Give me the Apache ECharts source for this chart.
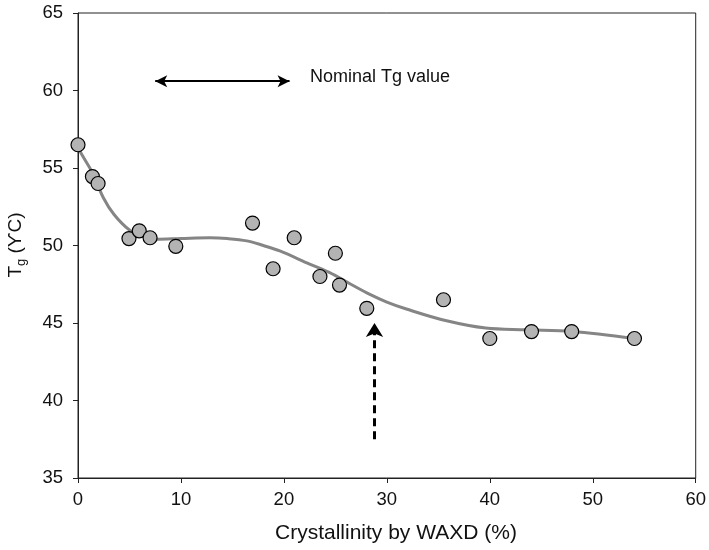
<!DOCTYPE html>
<html>
<head>
<meta charset="utf-8">
<script src="https://cdn.jsdelivr.net/npm/echarts@6/dist/echarts.min.js"></script>
<style>html,body{margin:0;padding:0;background:#fff}#c{width:709px;height:550px}</style>
</head>
<body>
<div id="c"></div>
<script>
var crystX = [0, 1.4, 1.95, 4.95, 5.95, 7.0, 9.5, 16.95, 18.95, 21.0, 23.5, 25.0, 25.4, 28.05, 35.5, 40.0, 44.05, 47.95, 54.05];
var tgY    = [56.5, 54.45, 54.0, 50.45, 50.95, 50.5, 49.95, 51.45, 48.5, 50.5, 48.0, 49.5, 47.45, 45.95, 46.5, 44.0, 44.45, 44.45, 44.0];
var trendX = [0, 0.7, 1.4, 2.45, 3.5, 5.0, 6.3, 7.6, 10, 12.8, 14.5, 16.4, 18, 19.6, 22.5, 24.4, 26.5, 28.3, 30, 31.9, 35.8, 39.6, 43.5, 48, 54];
var trendY = [56.3, 55.5, 54.7, 53.1, 52.0, 51.0, 50.6, 50.4, 50.45, 50.5, 50.45, 50.3, 50.0, 49.65, 48.8, 48.26, 47.5, 46.86, 46.35, 45.9, 45.14, 44.67, 44.56, 44.45, 44.0];
var nominalArrow = [[7.5, 60.6], [20.55, 60.6]];
var dashedArrow = [[28.8, 37.5], [28.8, 45.0]];
var xTicks = [0, 10, 20, 30, 40, 50, 60];
var yTicks = [35, 40, 45, 50, 55, 60, 65];

function zip(a, b) { return a.map(function (v, i) { return [v, b[i]]; }); }

var chart = echarts.init(document.getElementById('c'), null, { renderer: 'canvas' });
var fontFam = 'Liberation Sans, Arial, sans-serif';
chart.setOption({
  animation: false,
  backgroundColor: '#fff',
  grid: { left: 78, right: 12, top: 13, bottom: 72, show: true, borderColor: '#222', borderWidth: 1, backgroundColor: 'transparent' },
  xAxis: {
    type: 'value', min: xTicks[0], max: xTicks[xTicks.length - 1], interval: 10,
    axisLine: { lineStyle: { color: '#222', width: 1 } },
    axisTick: { show: true, inside: false, length: 5, lineStyle: { color: '#222' } },
    axisLabel: { color: '#111', fontSize: 18.5, fontFamily: fontFam, margin: 12 },
    splitLine: { show: false }
  },
  yAxis: {
    type: 'value', min: yTicks[0], max: yTicks[yTicks.length - 1], interval: 5,
    axisLine: { show: true, lineStyle: { color: '#222', width: 1 } },
    axisTick: { show: true, inside: false, length: 5, lineStyle: { color: '#222' } },
    axisLabel: { color: '#111', fontSize: 18.5, fontFamily: fontFam, margin: 15 },
    splitLine: { show: false }
  },
  graphic: [
    { type: 'text', left: 275, top: 523, style: { text: 'Crystallinity by WAXD (%)', fontSize: 21, fontFamily: fontFam, fill: '#111' } },
    { type: 'text', left: 310, top: 68, style: { text: 'Nominal Tg value', fontSize: 18, fontFamily: fontFam, fill: '#111' } },
    { type: 'text', x: 16, y: 245, rotation: Math.PI / 2, style: {
        rich: { a: { fontSize: 19, fontFamily: fontFam, fill: '#111' }, s: { fontSize: 13, fontFamily: fontFam, fill: '#111', verticalAlign: 'bottom', padding: [10, 0, 0, 0] } },
        text: '{a|T}{s|g}{a| (ϒC)}', align: 'center', verticalAlign: 'middle' } }
  ],
  series: [
    {
      type: 'line', data: zip(trendX, trendY), smooth: 0.35, showSymbol: false, symbol: 'none',
      lineStyle: { color: '#858585', width: 3 }, z: 2,
      markLine: {
        silent: true, animation: false, label: { show: false },
        symbol: ['arrow', 'arrow'], symbolSize: [9, 12],
        data: [
          [{ coord: nominalArrow[0] }, { coord: nominalArrow[1] }],
          [{ coord: dashedArrow[0], symbol: 'none', lineStyle: { type: [8, 5], width: 3, color: '#000' } }, { coord: dashedArrow[1], symbol: 'arrow', symbolSize: [13, 14] }]
        ],
        lineStyle: { color: '#000', width: 2, type: 'solid' }
      }
    },
    {
      type: 'scatter', data: zip(crystX, tgY), symbol: 'circle', symbolSize: 14,
      itemStyle: { color: '#b3b3b3', borderColor: '#000', borderWidth: 1.2, opacity: 1 }, z: 3
    }
  ]
});
</script>
</body>
</html>
